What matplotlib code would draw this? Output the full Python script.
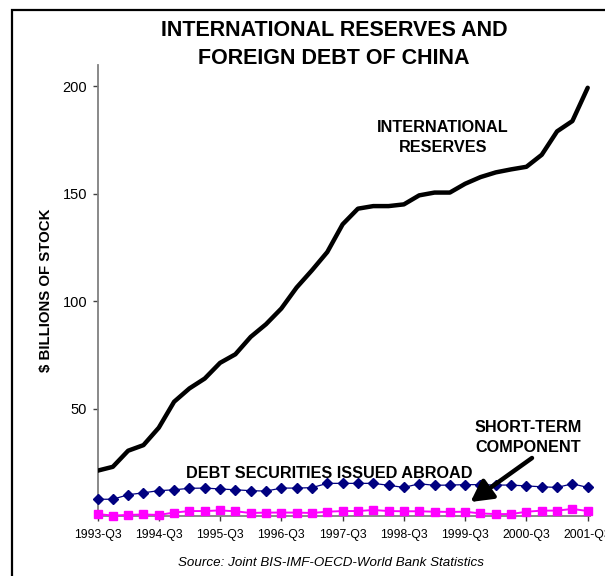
import matplotlib
matplotlib.use("Agg")
import matplotlib.pyplot as plt
from matplotlib.patches import Rectangle, FancyArrowPatch

plt.rcParams["font.family"] = ["Liberation Sans", "DejaVu Sans"]

# Quarterly observations, 1993-Q3 .. 2001-Q3
quarters = [f"{y}-Q{q}" for y in range(1993, 2002) for q in (1, 2, 3, 4)][2:35]

reserves = [21.1, 22.9, 30.4, 33.0, 41.1, 53.2, 59.4, 64.0, 71.3, 75.3, 83.4,
            89.3, 96.6, 106.4, 114.4, 122.9, 135.8, 143.1, 144.3, 144.3, 145.1,
            149.3, 150.6, 150.6, 154.7, 157.8, 160.0, 161.4, 162.6, 168.2,
            179.1, 183.9, 199.4]

debt_securities = [7.8, 7.8, 9.9, 10.8, 11.8, 12.2, 12.9, 13.0, 12.6, 12.2,
                   11.8, 11.6, 13.0, 13.0, 13.2, 15.2, 15.2, 15.2, 15.2, 14.3,
                   13.3, 15.0, 14.3, 14.4, 14.6, 14.6, 14.4, 14.4, 14.0, 13.6,
                   13.3, 15.0, 13.3]

short_term = [0.9, 0.2, 0.5, 0.7, 0.5, 1.6, 2.3, 2.3, 2.6, 2.2, 1.4, 1.6, 1.6,
              1.6, 1.4, 2.0, 2.3, 2.3, 2.8, 2.3, 2.2, 2.2, 2.0, 1.9, 2.0, 1.2,
              0.9, 0.9, 2.0, 2.5, 2.5, 3.3, 2.3]

y_ticks = [50, 100, 150, 200]

W, H = 605, 576
fig = plt.figure(figsize=(W / 100, H / 100), dpi=100)
fig.patch.set_facecolor("white")

# outer frame
fig.add_artist(Rectangle((12 / W, -0.2), 2.0, (H - 10) / H + 0.2,
                         transform=fig.transFigure, fill=False,
                         edgecolor="black", linewidth=1.6))

left, right, top, bottom = 97.5, 590, 65, 516
ax = fig.add_axes([left / W, 1 - bottom / H, (right - left) / W, (bottom - top) / H])

x = list(range(len(quarters)))
ax.plot(x, reserves, color="black", linewidth=3.2, solid_joinstyle="round",
        solid_capstyle="round", zorder=3)
ax.plot(x, debt_securities, color="#000080", linewidth=0.9, marker="D",
        markersize=5.3, zorder=4, clip_on=False)
ax.plot(x, short_term, color="#FF00FF", linewidth=1.4, marker="s",
        markersize=5.6, zorder=4, clip_on=False)

ax.set_xlim(0, 32.15)
ax.set_ylim(0, 210)

ax.set_xticks(x[::4])
ax.set_xticklabels(quarters[::4], fontsize=8.8)
ax.set_yticks(y_ticks)
ax.set_yticklabels([str(v) for v in y_ticks], fontsize=10.5)

for side in ("top", "right"):
    ax.spines[side].set_visible(False)
for side in ("left", "bottom"):
    ax.spines[side].set_color("#808080")
    ax.spines[side].set_linewidth(1.3)
ax.tick_params(axis="both", direction="out", length=3.5, width=1.0,
               color="#404040")
ax.tick_params(axis="x", pad=6)
ax.tick_params(axis="y", pad=4)

ax.set_ylabel("$ BILLIONS OF STOCK", fontsize=10.8, fontweight="bold",
              labelpad=7)

def px(xp, yp):
    return xp / W, 1 - yp / H

fig.text(*px(334, 31), "INTERNATIONAL RESERVES AND", ha="center", va="center",
         fontsize=15.5, fontweight="bold")
fig.text(*px(334, 58), "FOREIGN DEBT OF CHINA", ha="center", va="center",
         fontsize=15.5, fontweight="bold")

fig.text(*px(443, 127.5), "INTERNATIONAL", ha="center", va="center",
         fontsize=11.7, fontweight="bold")
fig.text(*px(443, 148), "RESERVES", ha="center", va="center",
         fontsize=11.7, fontweight="bold")

fig.text(*px(329, 474), "DEBT SECURITIES ISSUED ABROAD", ha="center",
         va="center", fontsize=11.7, fontweight="bold")

fig.text(*px(528, 427), "SHORT-TERM", ha="center", va="center",
         fontsize=11.7, fontweight="bold")
fig.text(*px(528, 447), "COMPONENT", ha="center", va="center",
         fontsize=11.7, fontweight="bold")

fig.add_artist(FancyArrowPatch(
    px(532, 458), px(470.5, 502), transform=fig.transFigure,
    arrowstyle="-|>,head_length=13,head_width=7", mutation_scale=1,
    color="black", linewidth=3.2, shrinkA=0, shrinkB=0))

fig.text(*px(331, 563), "Source: Joint BIS-IMF-OECD-World Bank Statistics",
         ha="center", va="center", fontsize=9.6, style="italic")

fig.savefig("out.png", dpi=100)
